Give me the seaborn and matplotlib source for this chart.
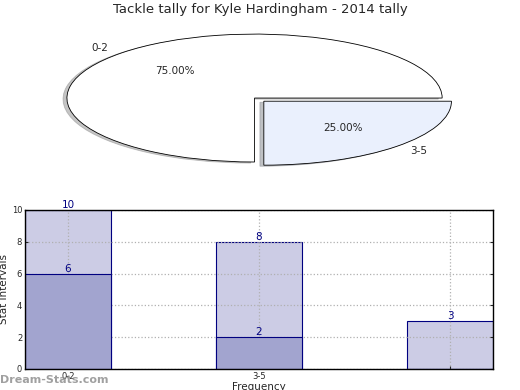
import matplotlib
matplotlib.use("Agg")
import matplotlib.pyplot as plt
import seaborn as sns
import pandas as pd

# ---- data ----
pie_labels = ["0-2", "3-5"]
pie_values = [75, 25]
pie_colors = ["#ffffff", "#eaf0fd"]

categories = ["0-2", "3-5", " "]
totals = [10, 8, 3]
parts = [6, 2, 0]
tick_labels = ["0-2", "3-5", ""]

sns.set_style("white")
plt.rcParams['font.family'] = ['DejaVu Sans']

fig = plt.figure(figsize=(5.2, 3.9), dpi=100)
fig.text(0.5, 0.975, "Tackle tally for Kyle Hardingham - 2014 tally", ha="center", va="center", fontsize=9.5)

# ---- pie ----
axp = fig.add_axes([0.0385, 0.5436, 0.902, 0.41])
wedges, texts, autotexts = axp.pie(
    pie_values, labels=pie_labels, colors=pie_colors, startangle=0, counterclock=True,
    explode=[0, 0.07], autopct="%.2f%%", pctdistance=0.6, labeldistance=1.1,
    shadow=dict(ox=-0.015, oy=-0.012, shade=0.45),
    wedgeprops=dict(edgecolor="black", linewidth=0.6),
    textprops=dict(fontsize=7.5))
axp.set_aspect("auto")
axp.set_xlim(-1.25, 1.25)
axp.set_ylim(-1.25, 1.25)
axp.axis("off")

# ---- bars ----
ax = fig.add_axes([0.048, 0.054, 0.9, 0.4077])
df_tot = pd.DataFrame({"cat": categories, "val": totals})
df_part = pd.DataFrame({"cat": categories, "val": parts})
sns.barplot(data=df_tot, x="cat", y="val", order=categories, color="#ccccE5", saturation=1,
            width=0.45, edgecolor="#000080", linewidth=0.8, ax=ax, zorder=2)
sns.barplot(data=df_part, x="cat", y="val", order=categories, color="#a2a4cf", saturation=1,
            width=0.45, edgecolor="#000080", linewidth=0.8, ax=ax, zorder=3)

for i, (t, p) in enumerate(zip(totals, parts)):
    ax.text(i, t, str(t), ha="center", va="bottom", color="#000080", fontsize=7.5, zorder=5)
    if p > 0:
        ax.text(i, p, str(p), ha="center", va="bottom", color="#000080", fontsize=7.5, zorder=5)

ax.set_xlim(-0.225, 2.225)
ax.set_ylim(0, 10)
ax.set_yticks([0, 2, 4, 6, 8, 10])
ax.set_xticks(range(len(categories)))
ax.set_xticklabels(tick_labels)
ax.tick_params(axis="both", labelsize=6, length=2, direction="in", right=True, left=True, bottom=True, pad=2)
ax.set_xlabel("Frequency", fontsize=7.5, labelpad=1)
ax.set_ylabel("Stat Intervals", fontsize=7.5, labelpad=2)
ax.grid(True, axis="both", linestyle=":", color="#b0b0b0", linewidth=0.9)
ax.set_axisbelow(False)
for s in ax.spines.values():
    s.set_color("black")
    s.set_linewidth(1)
    s.set_zorder(6)
for line in ax.get_xgridlines() + ax.get_ygridlines():
    line.set_zorder(4)

fig.text(0.0, 0.025, "Dream-Stats.com", fontsize=8, fontweight="bold", color="#909090", alpha=0.85, ha="left", va="center")

fig.savefig("out.png", dpi=100)
